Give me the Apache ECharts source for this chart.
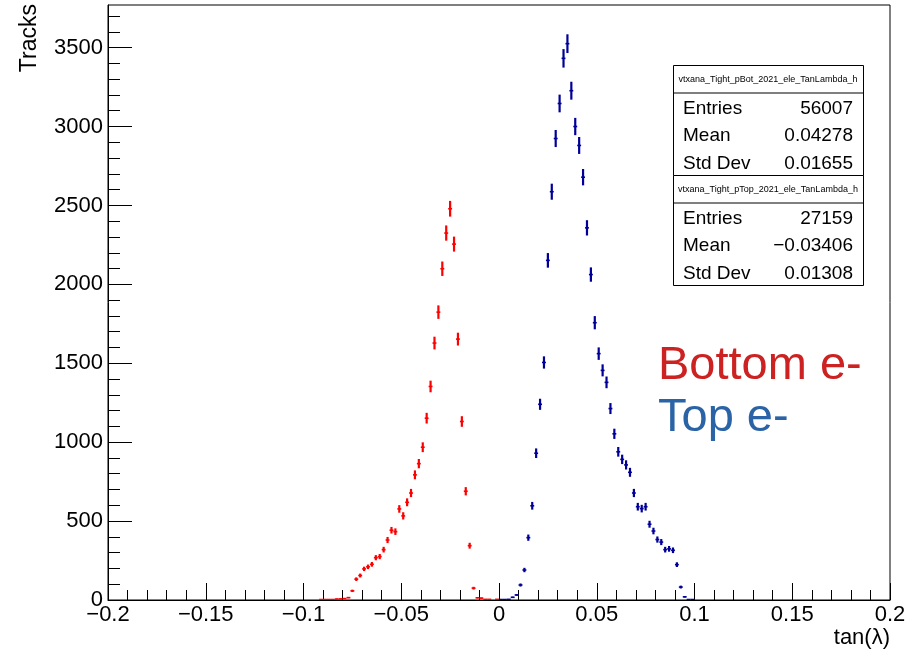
<!DOCTYPE html>
<html><head><meta charset="utf-8">
<script src="https://cdn.jsdelivr.net/npm/echarts@6/dist/echarts.min.js"></script>
<style>html,body{margin:0;padding:0;background:#fff}#c{width:918px;height:649px}</style>
</head><body><div id="c"></div>
<script>
// Red histogram (negative tan(lambda)) — bin centers and counts
const redX = [-0.091,-0.089,-0.087,-0.085,-0.083,-0.081,-0.079,-0.077,-0.075,-0.073,-0.071,-0.069,-0.067,-0.065,-0.063,-0.061,-0.059,-0.057,-0.055,-0.053,-0.051,-0.049,-0.047,-0.045,-0.043,-0.041,-0.039,-0.037,-0.035,-0.033,-0.031,-0.029,-0.027,-0.025,-0.023,-0.021,-0.019,-0.017,-0.015,-0.013,-0.011,-0.009,-0.007,-0.005,-0.001];
const redY = [3,3,3,3,6,7,9,15,58,132,155,197,210,226,268,275,319,380,442,433,577,533,619,678,793,864,968,1152,1353,1628,1824,2099,2325,2479,2255,1653,1131,689,344,75,14,12,4,4,4];
// Blue histogram (positive tan(lambda))
const blueX = [0.001,0.003,0.005,0.007,0.009,0.011,0.013,0.015,0.017,0.019,0.021,0.023,0.025,0.027,0.029,0.031,0.033,0.035,0.037,0.039,0.041,0.043,0.045,0.047,0.049,0.051,0.053,0.055,0.057,0.059,0.061,0.063,0.065,0.067,0.069,0.071,0.073,0.075,0.077,0.079,0.081,0.083,0.085,0.087,0.089,0.091,0.093,0.095,0.097,0.099];
const blueY = [3,3,4,17,32,95,190,395,597,930,1240,1505,2152,2587,2924,3146,3432,3525,3227,3000,2880,2679,2358,2062,1757,1561,1455,1379,1213,1053,939,891,856,809,678,591,579,591,480,437,383,367,319,324,315,224,82,20,3,3];

const yMajor = [0,500,1000,1500,2000,2500,3000,3500];
const yMinor = [100,200,300,400,600,700,800,900,1100,1200,1300,1400,1600,1700,1800,1900,2100,2200,2300,2400,2600,2700,2800,2900,3100,3200,3300,3400,3600,3700];

const stats1Title = 'vtxana_Tight_pBot_2021_ele_TanLambda_h';
const stats1Labels = ['Entries','Mean','Std Dev'];
const stats1Values = ['56007','0.04278','0.01655'];
const stats2Title = 'vtxana_Tight_pTop_2021_ele_TanLambda_h';
const stats2Labels = ['Entries','Mean','Std Dev'];
const stats2Values = ['27159','\u22120.03406','0.01308'];

const FONT = '"Liberation Sans", Arial, Helvetica, sans-serif';
const chart = echarts.init(document.getElementById('c'), null, {renderer:'canvas'});

function pairs(xs, ys){ return xs.map((x,i)=>[x, ys[i]]); }

function errRenderer(color){
  return function(params, api){
    const x = api.value(0), y = api.value(1), e = Math.sqrt(y), hw = 0.001;
    const p0 = api.coord([x, Math.max(0, y - e)]), p1 = api.coord([x, y + e]);
    const l = api.coord([x - hw, y]), r = api.coord([x + hw, y]);
    return {type:'group', children:[
      {type:'line', shape:{x1:p0[0],y1:p0[1],x2:p1[0],y2:p1[1]}, style:{stroke:color,lineWidth:2.2}},
      {type:'line', shape:{x1:l[0],y1:l[1],x2:r[0],y2:r[1]}, style:{stroke:color,lineWidth:1.6}}
    ]};
  };
}

// stats boxes
const BX = 673, BW = 190, ROWH = 27.5;
function statsBox(top, title, labels, values){
  const els = [];
  const h = ROWH*4;
  els.push({type:'rect', shape:{x:BX+0.5,y:top+0.5,width:BW,height:h}, style:{fill:'#fff',stroke:'#000',lineWidth:1}, z:100});
  els.push({type:'line', shape:{x1:BX,y1:top+ROWH+0.5,x2:BX+BW,y2:top+ROWH+0.5}, style:{stroke:'#000',lineWidth:1}, z:101});
  els.push({type:'text', x:BX+BW/2, y:top+ROWH/2+1, style:{text:title, font:'9px '+FONT, fill:'#000', textAlign:'center', textVerticalAlign:'middle'}, z:101});
  labels.forEach((lab,i)=>{
    const cy = top + ROWH*(i+1) + ROWH/2 + 2.5;
    els.push({type:'text', x:BX+10, y:cy, style:{text:lab, font:'19px '+FONT, fill:'#000', textAlign:'left', textVerticalAlign:'middle'}, z:101});
    els.push({type:'text', x:BX+BW-10, y:cy, style:{text:values[i], font:'19px '+FONT, fill:'#000', textAlign:'right', textVerticalAlign:'middle'}, z:101});
  });
  return els;
}

const option = {
  animation:false,
  backgroundColor:'#fff',
  grid:{left:108, right:28, top:5, bottom:49, show:true, borderColor:'#000', borderWidth:1, backgroundColor:'transparent'},
  xAxis:{
    type:'value', min:-0.2, max:0.2, interval:0.05,
    axisLine:{show:true, onZero:false, lineStyle:{color:'#000', width:1}},
    axisTick:{show:true, inside:true, length:17, lineStyle:{color:'#000'}},
    minorTick:{show:true, splitNumber:5, length:10, lineStyle:{color:'#000'}},
    splitLine:{show:false},
    axisLabel:{color:'#000', fontSize:22, fontFamily:FONT, margin:4,
      formatter:v=>{const r=Math.round(v*100)/100; return r<0 ? '\u2212'+Math.abs(r) : String(r);}}
  },
  yAxis:[{
    type:'value', min:0, max:3770, position:'left',
    axisLine:{show:true, onZero:false, lineStyle:{color:'#000', width:1}},
    axisTick:{show:true, inside:true, length:24, customValues:yMajor, lineStyle:{color:'#000'}},
    splitLine:{show:false},
    axisLabel:{color:'#000', fontSize:22, fontFamily:FONT, margin:5, customValues:yMajor, formatter:v=>String(v)}
  },{
    type:'value', min:0, max:3770, position:'left', offset:0,
    axisLine:{show:false, onZero:false},
    axisTick:{show:true, inside:true, length:12, customValues:yMinor, lineStyle:{color:'#000'}},
    splitLine:{show:false},
    axisLabel:{show:false, customValues:yMinor}
  }],
  series:[
    {type:'custom', name:'red', xAxisIndex:0, yAxisIndex:0, renderItem:errRenderer('#ff0000'), data:pairs(redX, redY), clip:true, encode:{x:0,y:1}},
    {type:'custom', name:'blue', xAxisIndex:0, yAxisIndex:0, renderItem:errRenderer('#000099'), data:pairs(blueX, blueY), clip:true, encode:{x:0,y:1}}
  ],
  graphic:[
    {type:'text', x:18, y:4, rotation:Math.PI/2, style:{text:'Tracks', font:'23px '+FONT, fill:'#000', textAlign:'right', textVerticalAlign:'top'}},
    {type:'text', x:890, y:627, style:{text:'tan(\u03bb)', font:'22px '+FONT, fill:'#000', textAlign:'right', textVerticalAlign:'top'}},
    {type:'text', x:658, y:343, style:{text:'Bottom e-', font:'47px '+FONT, fill:'#cc2222', textAlign:'left', textVerticalAlign:'top'}},
    {type:'text', x:658, y:395, style:{text:'Top e-', font:'47px '+FONT, fill:'#2b64a6', textAlign:'left', textVerticalAlign:'top'}},
    ...statsBox(65, stats1Title, stats1Labels, stats1Values),
    ...statsBox(65+ROWH*4, stats2Title, stats2Labels, stats2Values)
  ]
};
chart.setOption(option);
</script></body></html>
